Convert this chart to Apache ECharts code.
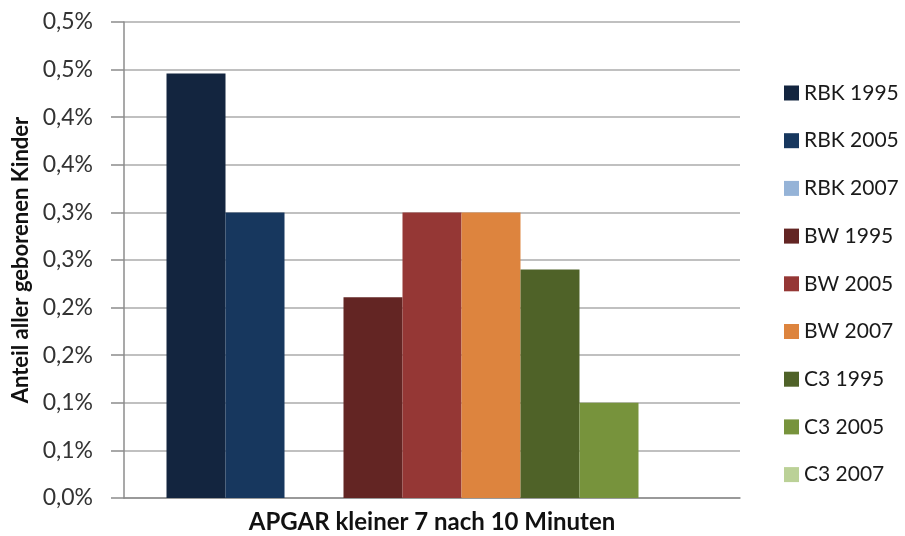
<!DOCTYPE html>
<html>
<head>
<meta charset="utf-8">
<script src="https://cdn.jsdelivr.net/npm/echarts@6/dist/echarts.min.js"></script>
<style>html,body{margin:0;padding:0;background:#fff}#c{width:905px;height:536px}</style>
</head>
<body>
<div id="c"></div>
<script>
const categories = ['APGAR kleiner 7 nach 10 Minuten'];
const seriesNames = ['RBK 1995','RBK 2005','RBK 2007','BW 1995','BW 2005','BW 2007','C3 1995','C3 2005','C3 2007'];
const seriesValues = [[0.446],[0.30],[0],[0.211],[0.30],[0.30],[0.24],[0.10],[0]];
const seriesColors = ['#13253F','#17375E','#95B3D7','#632523','#953735','#DD843E','#4F6228','#77933C','#BBD197'];
const yAxisTitle = 'Anteil aller geborenen Kinder';

const FONT = 'Lato';
const chart = echarts.init(document.getElementById('c'), null, {renderer:'canvas'});
const series = seriesNames.map((n,i)=>({
  name:n, type:'bar', data:seriesValues[i],
  barGap:'0%', barCategoryGap:'13.8%',
  itemStyle:{color:seriesColors[i]},
  emphasis:{disabled:true}
}));
chart.setOption({
  animation:false,
  textStyle:{fontFamily:FONT},
  grid:{left:124, right:165, top:22, bottom:38, containLabel:false},
  legend:{
    orient:'vertical', left:779, top:76,
    icon:'rect', itemWidth:15, itemHeight:15, itemGap:23.7,
    textStyle:{fontFamily:FONT, fontSize:21, color:'#1a1a1a', lineHeight:24},
    data:seriesNames
  },
  xAxis:{
    type:'category', data:categories,
    axisLine:{show:true, lineStyle:{color:'#8c8c8c', width:1.5}},
    axisTick:{show:false},
    axisLabel:{fontFamily:FONT, fontSize:24, fontWeight:'bold', color:'#111', margin:12}
  },
  yAxis:{
    type:'value', min:0, max:0.5, interval:0.05,
    name:yAxisTitle, nameLocation:'middle', nameGap:90, nameRotate:90,
    nameTextStyle:{fontFamily:FONT, fontSize:22, fontWeight:'bold', color:'#111'},
    axisLine:{show:true, lineStyle:{color:'#8c8c8c', width:1.5}},
    axisTick:{show:true, inside:false, length:13, lineStyle:{color:'#8c8c8c', width:1.5}},
    splitLine:{show:true, lineStyle:{color:'#ababab', width:1.5}},
    axisLabel:{fontFamily:FONT, fontSize:23, color:'#333', margin:31,
      formatter:v=>(Math.round(v*10+1e-9)/10).toFixed(1).replace('.',',')+'%'}
  },
  series:series
});
</script>
</body>
</html>
